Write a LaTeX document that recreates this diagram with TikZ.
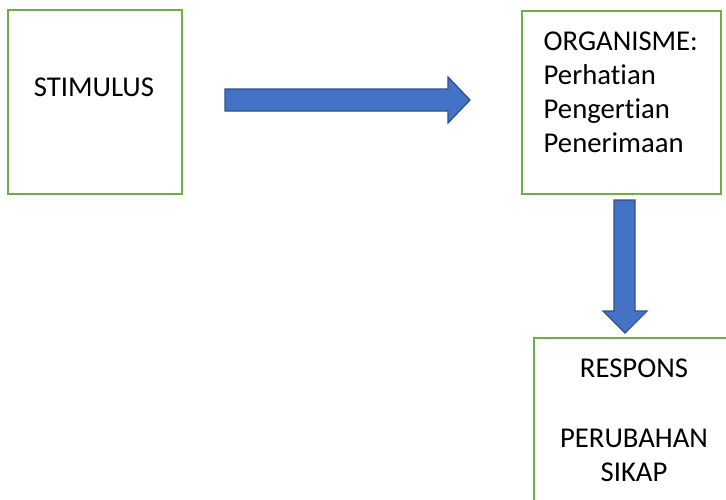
\documentclass[tikz,border=0pt]{standalone}
\usepackage{fontspec}
\setmainfont[Ligatures={NoCommon}]{Carlito}
\definecolor{boxgreen}{HTML}{70AD47}
\definecolor{arrowfill}{HTML}{4472C4}
\definecolor{arrowline}{HTML}{2F528F}
\tikzset{
  framebox/.style={draw=boxgreen, line width=2pt},
  blockarrow/.style={fill=arrowfill, draw=arrowline, line width=1.3pt, line join=miter},
  label/.style={inner sep=0pt, font=\fontsize{28.7}{34.2}\selectfont, text=black}
}
\begin{document}
\begin{tikzpicture}[x=1pt, y=-1pt]
\useasboundingbox (0,0) rectangle (726,499);
\clip (0,0) rectangle (726,499);
\fill[white] (0,0) rectangle (726,499);
% boxes
\draw[framebox] (8,10) rectangle (182,194);
\draw[framebox] (522,11) rectangle (721,194);
\draw[framebox] (534,338) rectangle (740,520);
\node[label, anchor=base] (stimtext) at (94,96) {STIMULUS};
\node[label, anchor=north west, align=left] (orgtext) at (543.5,31.5)
  {ORGANISME:\\Perhatian\\Pengertian\\Penerimaan};
\node[label, anchor=north, align=center] (resptext) at (634,358.5)
  {RESPONS\\[36pt]PERUBAHAN\\SIKAP};
% horizontal block arrow
\coordinate (h1) at (225,100);
\coordinate (h2) at (470,100);
\draw[blockarrow] (225,89) -- (448,89) -- (448,77) -- (h2) -- (448,123) -- (448,111) -- (225,111) -- cycle;
% vertical block arrow
\coordinate (v1) at (625,200);
\coordinate (v2) at (625,333);
\draw[blockarrow] (614,200) -- (635,200) -- (635,311) -- (647,311) -- (v2) -- (603,311) -- (614,311) -- cycle;
\end{tikzpicture}
\end{document}
